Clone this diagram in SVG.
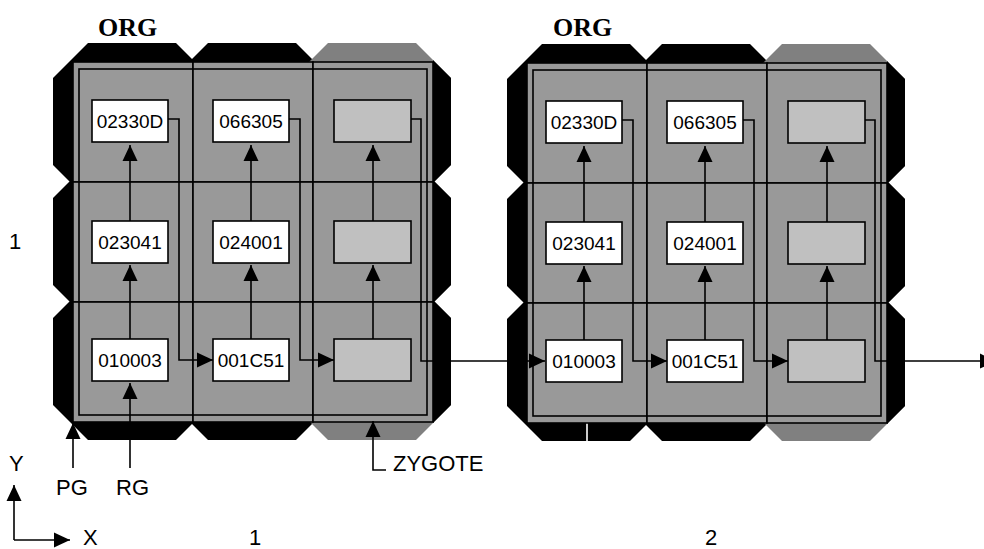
<svg xmlns="http://www.w3.org/2000/svg" xmlns:xlink="http://www.w3.org/1999/xlink" width="984" height="549" viewBox="0 0 984 549">
<style>
.cell{fill:#999999;stroke:#000;stroke-width:1.6}
.inner{fill:none;stroke:#000;stroke-width:1.6}
.box{fill:#fff;stroke:#000;stroke-width:1.6}
.ebox{fill:#c0c0c0;stroke:#000;stroke-width:1.6}
.bt{font-family:"Liberation Sans",Arial,sans-serif;font-size:19px;text-anchor:middle;fill:#000}
.lb{font-family:"Liberation Sans",Arial,sans-serif;font-size:22px;fill:#000}
.org{font-family:"Liberation Serif","Times New Roman",serif;font-size:26px;font-weight:bold;fill:#000}
.cn{fill:none;stroke:#000;stroke-width:1.6}
.ar{marker-end:url(#ah)}
</style>
<defs>
<polygon id="oct" points="15,-19 103,-19 138,16 138,103 103,138 15,138 -20,103 -20,16"/>
<polygon id="rs" points="120,-2 138,16 138,103 120,121"/>
<marker id="ah" viewBox="0 0 16 16" refX="16" refY="8" markerWidth="16" markerHeight="16" orient="auto" markerUnits="userSpaceOnUse">
<path d="M0,0.5 L16,8 L0,15.5 Z" fill="#000"/>
</marker>
</defs>
<rect width="984" height="549" fill="#fff"/>

<!-- ORG 1 -->
<g id="org1">
<g id="org1-frame">
<use xlink:href="#oct" x="73" y="62" fill="#000"/>
<use xlink:href="#oct" x="73" y="182" fill="#000"/>
<use xlink:href="#oct" x="73" y="302" fill="#000"/>
<use xlink:href="#oct" x="193" y="62" fill="#000"/>
<use xlink:href="#oct" x="193" y="182" fill="#000"/>
<use xlink:href="#oct" x="193" y="302" fill="#000"/>
<use xlink:href="#oct" x="313" y="62" fill="#808080"/>
<use xlink:href="#oct" x="313" y="182" fill="#808080"/>
<use xlink:href="#oct" x="313" y="302" fill="#808080"/>
<use xlink:href="#rs" x="313" y="62" fill="#000"/>
<use xlink:href="#rs" x="313" y="182" fill="#000"/>
<use xlink:href="#rs" x="313" y="302" fill="#000"/>
</g>
<g id="org1-cells">
<rect class="cell" x="73" y="62" width="120" height="120"/>
<rect class="cell" x="193" y="62" width="120" height="120"/>
<rect class="cell" x="313" y="62" width="120" height="120"/>
<rect class="cell" x="73" y="182" width="120" height="120"/>
<rect class="cell" x="193" y="182" width="120" height="120"/>
<rect class="cell" x="313" y="182" width="120" height="120"/>
<rect class="cell" x="73" y="302" width="120" height="120"/>
<rect class="cell" x="193" y="302" width="120" height="120"/>
<rect class="cell" x="313" y="302" width="120" height="120"/>
<rect class="inner" x="79" y="69" width="348" height="346"/>
</g>
</g>

<!-- ORG 2 -->
<g id="org2">
<g id="org2-frame">
<use xlink:href="#oct" x="527" y="63" fill="#000"/>
<use xlink:href="#oct" x="527" y="183" fill="#000"/>
<use xlink:href="#oct" x="527" y="303" fill="#000"/>
<use xlink:href="#oct" x="647" y="63" fill="#000"/>
<use xlink:href="#oct" x="647" y="183" fill="#000"/>
<use xlink:href="#oct" x="647" y="303" fill="#000"/>
<use xlink:href="#oct" x="767" y="63" fill="#808080"/>
<use xlink:href="#oct" x="767" y="183" fill="#808080"/>
<use xlink:href="#oct" x="767" y="303" fill="#808080"/>
<use xlink:href="#rs" x="767" y="63" fill="#000"/>
<use xlink:href="#rs" x="767" y="183" fill="#000"/>
<use xlink:href="#rs" x="767" y="303" fill="#000"/>
<line x1="587" y1="422" x2="587" y2="441" stroke="#fff" stroke-width="1.6"/>
</g>
<g id="org2-cells">
<rect class="cell" x="527" y="63" width="120" height="120"/>
<rect class="cell" x="647" y="63" width="120" height="120"/>
<rect class="cell" x="767" y="63" width="120" height="120"/>
<rect class="cell" x="527" y="183" width="120" height="120"/>
<rect class="cell" x="647" y="183" width="120" height="120"/>
<rect class="cell" x="767" y="183" width="120" height="120"/>
<rect class="cell" x="527" y="303" width="120" height="120"/>
<rect class="cell" x="647" y="303" width="120" height="120"/>
<rect class="cell" x="767" y="303" width="120" height="120"/>
<rect class="inner" x="533" y="70" width="348" height="346"/>
</g>
</g>

<!-- connectors -->
<g id="connectors">
<path class="cn ar" d="M130,339 V265"/>
<path class="cn ar" d="M130,221 V145"/>
<path class="cn ar" d="M251,339 V265"/>
<path class="cn ar" d="M251,221 V145"/>
<path class="cn ar" d="M373,339 V265"/>
<path class="cn ar" d="M373,221 V145"/>
<path class="cn ar" d="M168,119 H179 V360 H213"/>
<path class="cn ar" d="M289,119 H300 V360 H334"/>
<path class="cn ar" d="M411,119 H421 V361 H545"/>
<path class="cn ar" d="M584,340 V266"/>
<path class="cn ar" d="M584,222 V146"/>
<path class="cn ar" d="M705,340 V266"/>
<path class="cn ar" d="M705,222 V146"/>
<path class="cn ar" d="M827,340 V266"/>
<path class="cn ar" d="M827,222 V146"/>
<path class="cn ar" d="M622,120 H633 V361 H667"/>
<path class="cn ar" d="M743,120 H754 V361 H788"/>
<path class="cn ar" d="M865,120 H875 V361 H996"/>
<path class="cn ar" d="M130,468 V383"/>
<path class="cn ar" d="M73,468 V423"/>
<path class="cn ar" d="M386,470 H373 V421"/>
<path class="cn ar" d="M14,540 V485"/>
<path class="cn ar" d="M14,540 H70"/>
</g>

<!-- ORG1 boxes -->
<g id="o1-r1c1"><rect class="box" x="92" y="100" width="76" height="42"/><text class="bt" x="130" y="128">02330D</text></g>
<g id="o1-r1c2"><rect class="box" x="213" y="100" width="76" height="42"/><text class="bt" x="251" y="128">066305</text></g>
<g id="o1-r1c3"><rect class="ebox" x="334" y="100" width="77" height="42"/></g>
<g id="o1-r2c1"><rect class="box" x="92" y="221" width="76" height="42"/><text class="bt" x="130" y="249">023041</text></g>
<g id="o1-r2c2"><rect class="box" x="213" y="221" width="76" height="42"/><text class="bt" x="251" y="249">024001</text></g>
<g id="o1-r2c3"><rect class="ebox" x="334" y="221" width="77" height="42"/></g>
<g id="o1-r3c1"><rect class="box" x="92" y="339" width="76" height="42"/><text class="bt" x="130" y="367">010003</text></g>
<g id="o1-r3c2"><rect class="box" x="213" y="339" width="76" height="42"/><text class="bt" x="251" y="367">001C51</text></g>
<g id="o1-r3c3"><rect class="ebox" x="334" y="339" width="77" height="42"/></g>

<!-- ORG2 boxes -->
<g id="o2-r1c1"><rect class="box" x="546" y="101" width="76" height="42"/><text class="bt" x="584" y="129">02330D</text></g>
<g id="o2-r1c2"><rect class="box" x="667" y="101" width="76" height="42"/><text class="bt" x="705" y="129">066305</text></g>
<g id="o2-r1c3"><rect class="ebox" x="788" y="101" width="77" height="42"/></g>
<g id="o2-r2c1"><rect class="box" x="546" y="222" width="76" height="42"/><text class="bt" x="584" y="250">023041</text></g>
<g id="o2-r2c2"><rect class="box" x="667" y="222" width="76" height="42"/><text class="bt" x="705" y="250">024001</text></g>
<g id="o2-r2c3"><rect class="ebox" x="788" y="222" width="77" height="42"/></g>
<g id="o2-r3c1"><rect class="box" x="546" y="340" width="76" height="42"/><text class="bt" x="584" y="368">010003</text></g>
<g id="o2-r3c2"><rect class="box" x="667" y="340" width="76" height="42"/><text class="bt" x="705" y="368">001C51</text></g>
<g id="o2-r3c3"><rect class="ebox" x="788" y="340" width="77" height="42"/></g>

<!-- labels -->
<g id="labels">
<text class="org" x="98" y="36">ORG</text>
<text class="org" x="553" y="36">ORG</text>
<text class="lb" x="9" y="249">1</text>
<text class="lb" x="393" y="471">ZYGOTE</text>
<text class="lb" x="9" y="471">Y</text>
<text class="lb" x="56" y="495">PG</text>
<text class="lb" x="116" y="495">RG</text>
<text class="lb" x="83" y="545">X</text>
<text class="lb" x="249" y="545">1</text>
<text class="lb" x="705" y="545">2</text>
</g>
</svg>
